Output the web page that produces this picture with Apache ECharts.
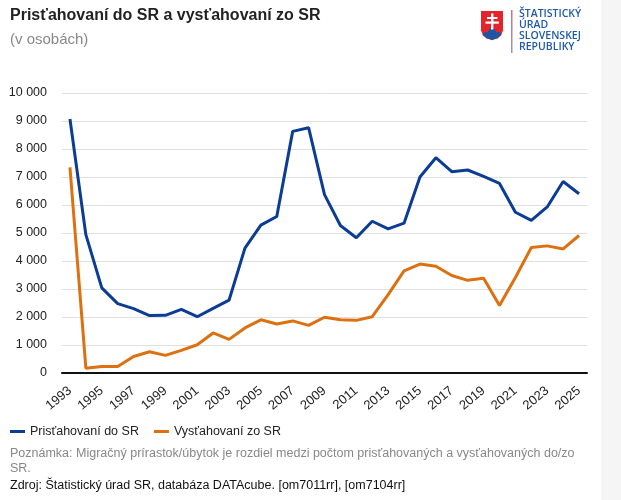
<!DOCTYPE html>
<html>
<head>
<meta charset="utf-8">
<script src="https://cdn.jsdelivr.net/npm/echarts@6/dist/echarts.min.js"></script>
<style>
  html, body { margin: 0; padding: 0; background: #fff; }
  #chart { width: 621px; height: 500px; }
</style>
</head>
<body>
<div id="chart"></div>
<script>
// years on the x axis
var years = ['1993','1994','1995','1996','1997','1998','1999','2000','2001','2002','2003',
  '2004','2005','2006','2007','2008','2009','2010','2011','2012','2013','2014','2015',
  '2016','2017','2018','2019','2020','2021','2022','2023','2024','2025'];

// prisťahovaní do SR (immigrants)
var immigrants = [9070, 4940, 3040, 2480, 2300, 2050, 2060, 2270, 2010, 2310, 2600,
  4460, 5280, 5590, 8630, 8760, 6370, 5270, 4830, 5420, 5150, 5350, 7000,
  7690, 7190, 7250, 7020, 6770, 5740, 5450, 5930, 6840, 6400];

// vysťahovaní zo SR (emigrants)
var emigrants = [7340, 170, 230, 230, 590, 760, 630, 810, 1010, 1430, 1200,
  1610, 1900, 1750, 1860, 1700, 1990, 1900, 1880, 2010, 2800, 3650, 3890,
  3810, 3480, 3310, 3380, 2410, 3410, 4480, 4540, 4430, 4910];

var seriesNames = ['Prisťahovaní do SR', 'Vysťahovaní zo SR'];
var colors = ['#0c3c94', '#dd7010'];
var font = '"Liberation Sans", Arial, sans-serif';

var chart = echarts.init(document.getElementById('chart'), null, { renderer: 'canvas' });

var option = {
  backgroundColor: '#fff',
  animation: false,
  color: colors,
  textStyle: { fontFamily: font },
  title: {
    left: 10,
    top: 8,
    padding: 0,
    itemGap: 8,
    text: 'Prisťahovaní do SR a vysťahovaní zo SR',
    textStyle: { fontFamily: font, fontSize: 16, fontWeight: 'bold', color: '#222' },
    subtext: '(v osobách)',
    subtextStyle: { fontFamily: font, fontSize: 15, color: '#888' }
  },
  legend: {
    left: 10,
    top: 425,
    padding: 0,
    icon: 'rect',
    itemWidth: 15,
    itemHeight: 3,
    itemGap: 15,
    textStyle: { fontFamily: font, fontSize: 12.5, color: '#222' },
    data: seriesNames
  },
  grid: { left: 62, right: 34, top: 93, bottom: 127 },
  xAxis: {
    type: 'category',
    data: years,
    boundaryGap: true,
    axisLine: { lineStyle: { color: '#111', width: 2 } },
    axisTick: { alignWithLabel: true, interval: 1, length: 5, lineStyle: { color: '#ccc' } },
    axisLabel: { interval: 1, rotate: 40, margin: 16, fontSize: 13, color: '#222', fontFamily: font }
  },
  yAxis: {
    type: 'value',
    min: 0,
    max: 10000,
    interval: 1000,
    axisLine: { show: false },
    axisTick: { show: false },
    splitLine: { lineStyle: { color: '#e0e0e0', width: 1 } },
    axisLabel: {
      margin: 15,
      fontSize: 12.5,
      color: '#222',
      fontFamily: font,
      formatter: function (v) { return String(v).replace(/\B(?=(\d{3})+(?!\d))/g, ' '); }
    }
  },
  series: [
    { name: seriesNames[0], type: 'line', data: immigrants, symbol: 'none', lineStyle: { width: 3 } },
    { name: seriesNames[1], type: 'line', data: emigrants, symbol: 'none', lineStyle: { width: 3 } }
  ],
  graphic: [
    // light strip on the right edge
    { type: 'rect', left: 601, top: 0, shape: { width: 20, height: 500 }, style: { fill: '#f5f5f5' }, silent: true },
    // note and source
    {
      type: 'text', left: 10, top: 446,
      style: {
        text: 'Poznámka: Migračný prírastok/úbytok je rozdiel medzi počtom prisťahovaných a vysťahovaných do/zo\nSR.',
        font: '12.5px ' + font, fill: '#888', lineHeight: 15
      }
    },
    {
      type: 'text', left: 10, top: 479,
      style: { text: 'Zdroj: Štatistický úrad SR, databáza DATAcube. [om7011rr], [om7104rr]', font: '12.5px ' + font, fill: '#111' }
    },
    // logo: shield
    {
      type: 'group', left: 480, top: 10,
      children: [
        { type: 'polygon', shape: { points: [[0,0],[23,0],[23,20],[21,25],[17,28.5],[11.5,30],[6,28.5],[2,25],[0,20]] }, style: { fill: '#e3242b', stroke: '#fff', lineWidth: 1 } },
        { type: 'polygon', shape: { points: [[2,24],[4,21.5],[7,22],[9,18.5],[11.5,18],[14,18.5],[16,22],[19,21.5],[21,24],[17,27.5],[11.5,29.5],[6,27.5]] }, style: { fill: '#1e55a5' } },
        { type: 'rect', shape: { x: 10.5, y: 3, width: 2.4, height: 16 }, style: { fill: '#fff' } },
        { type: 'rect', shape: { x: 6.5, y: 6.5, width: 10.4, height: 2 }, style: { fill: '#fff' } },
        { type: 'rect', shape: { x: 5, y: 11, width: 13.4, height: 2.2 }, style: { fill: '#fff' } }
      ]
    },
    // logo: divider
    {
      type: 'rect', left: 511, top: 10, shape: { width: 1.5, height: 43 },
      style: {
        fill: new echarts.graphic.LinearGradient(0, 0, 0, 1, [
          { offset: 0, color: '#e36a74' }, { offset: 1, color: '#7ea0cc' }
        ])
      }
    },
    // logo: text
    {
      type: 'text', left: 519, top: 9,
      style: {
        text: 'ŠTATISTICKÝ\nÚRAD\nSLOVENSKEJ\nREPUBLIKY',
        font: '600 10.5px "Open Sans", sans-serif', fill: '#1f5aa8', lineHeight: 11
      }
    }
  ]
};

chart.setOption(option);
</script>
</body>
</html>
